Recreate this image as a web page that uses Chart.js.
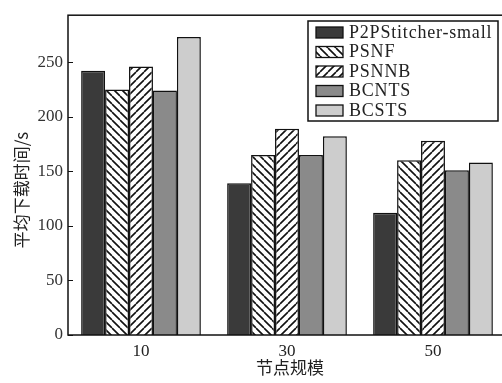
<!DOCTYPE html>
<html>
<head>
<meta charset="utf-8">
<script src="https://cdn.jsdelivr.net/npm/chart.js@4.4.1/dist/chart.umd.min.js"></script>
<style>
  html, body { margin: 0; padding: 0; background: #fff; overflow: hidden; }
  #wrap { width: 502px; height: 383px; position: relative; overflow: hidden; }
  #c { display: block; }
</style>
</head>
<body>
<div id="wrap"><canvas id="c" width="506" height="383"></canvas></div>
<script>
// Node scale categories and average download time (s) per scheme
const categories = ['10', '30', '50'];
const seriesNames = ['P2PStitcher-small', 'PSNF', 'PSNNB', 'BCNTS', 'BCSTS'];
const p2pStitcherSmall = [242, 139, 112];
const psnf = [225, 165, 160];
const psnnb = [246, 189, 178];
const bcnts = [224, 165, 151];
const bcsts = [273, 182, 158];
const yTicks = [0, 50, 100, 150, 200, 250];

const SERIF = '"Liberation Serif", "Times New Roman", Times, "DejaVu Serif", serif';
const CJK = '"Noto Sans CJK SC", sans-serif';

function hatch(dir) {
  const s = 8;
  const cv = document.createElement('canvas');
  cv.width = s; cv.height = s;
  const g = cv.getContext('2d');
  g.fillStyle = '#fff';
  g.fillRect(0, 0, s, s);
  g.strokeStyle = '#111';
  g.lineWidth = 1.6;
  g.beginPath();
  for (let k = -1; k <= 1; k++) {
    if (dir === 'back') { g.moveTo(k * s, 0); g.lineTo(k * s + s, s); }
    else { g.moveTo(k * s, s); g.lineTo(k * s + s, 0); }
  }
  g.stroke();
  return g.createPattern(cv, 'repeat');
}

const fills = ['#3a3a3a', hatch('back'), hatch('fwd'), '#8a8a8a', '#cdcdcd'];
const seriesData = [p2pStitcherSmall, psnf, psnnb, bcnts, bcsts];

// Frame, inward ticks, axis titles and boxed legend
const decorations = {
  id: 'decorations',
  afterDraw(chart) {
    const ctx = chart.ctx;
    const a = chart.chartArea;
    const y = chart.scales.y;
    ctx.save();
    ctx.strokeStyle = '#111';
    ctx.lineWidth = 1.5;
    ctx.strokeRect(a.left, a.top, a.right - a.left, a.bottom - a.top);
    ctx.lineWidth = 1;
    yTicks.forEach(v => {
      const py = Math.round(y.getPixelForValue(v)) + 0.5;
      ctx.beginPath();
      ctx.moveTo(a.left, py);
      ctx.lineTo(a.left + 5, py);
      ctx.stroke();
    });

    // axis titles
    ctx.fillStyle = '#222';
    ctx.font = '17px ' + CJK;
    ctx.textAlign = 'center';
    ctx.textBaseline = 'middle';
    ctx.fillText('节点规模', 290, 368);
    ctx.save();
    ctx.translate(22, 190);
    ctx.rotate(-Math.PI / 2);
    ctx.fillText('平均下载时间/s', 0, 0);
    ctx.restore();

    // legend
    const lx = 308, ly = 21, lw = 190, lh = 100;
    ctx.fillStyle = '#fff';
    ctx.fillRect(lx, ly, lw, lh);
    ctx.strokeStyle = '#111';
    ctx.lineWidth = 1.5;
    ctx.strokeRect(lx, ly, lw, lh);
    chart.data.datasets.forEach((ds, i) => {
      const cy = ly + 11 + i * 19.5;
      ctx.fillStyle = ds.backgroundColor;
      ctx.fillRect(316, cy - 5, 27, 11);
      ctx.lineWidth = 1.3;
      ctx.strokeRect(316, cy - 5, 27, 11);
      ctx.fillStyle = '#222';
      ctx.font = '18px ' + SERIF;
      ctx.textAlign = 'left';
      ctx.textBaseline = 'middle';
      ctx.letterSpacing = '0.8px';
      ctx.fillText(ds.label, 349, cy + 1);
      ctx.letterSpacing = '0px';
    });
    ctx.restore();
  }
};

function build() {
  new Chart(document.getElementById('c'), {
    type: 'bar',
    data: {
      labels: categories,
      datasets: seriesNames.map((name, i) => ({
        label: name,
        data: seriesData[i],
        backgroundColor: fills[i],
        borderColor: '#111',
        borderWidth: 1.5,
        categoryPercentage: 0.82,
        barPercentage: 1.0
      }))
    },
    options: {
      responsive: false,
      animation: false,
      devicePixelRatio: 1,
      layout: { padding: { top: 12, right: 0, left: 0, bottom: 0 } },
      plugins: { legend: { display: false }, tooltip: { enabled: false } },
      scales: {
        x: {
          grid: { display: false, drawTicks: false },
          border: { display: false },
          ticks: {
            color: '#222',
            font: { family: SERIF, size: 17 },
            padding: 6
          },
          afterFit(scale) { scale.height = 48; }
        },
        y: {
          min: 0,
          max: 293,
          grid: { display: false, drawTicks: false },
          border: { display: false },
          ticks: {
            stepSize: 50,
            color: '#333',
            font: { family: SERIF, size: 17 },
            padding: 5
          },
          afterBuildTicks(scale) {
            scale.ticks = yTicks.map(v => ({ value: v }));
          },
          afterFit(scale) { scale.width = 68; }
        }
      }
    },
    plugins: [decorations]
  });
}

Promise.all([
  document.fonts.load('17px "Liberation Serif"'),
  document.fonts.load('17px "Noto Sans CJK SC"', '平均下载时间节点规模')
]).then(build, build);
</script>
</body>
</html>
